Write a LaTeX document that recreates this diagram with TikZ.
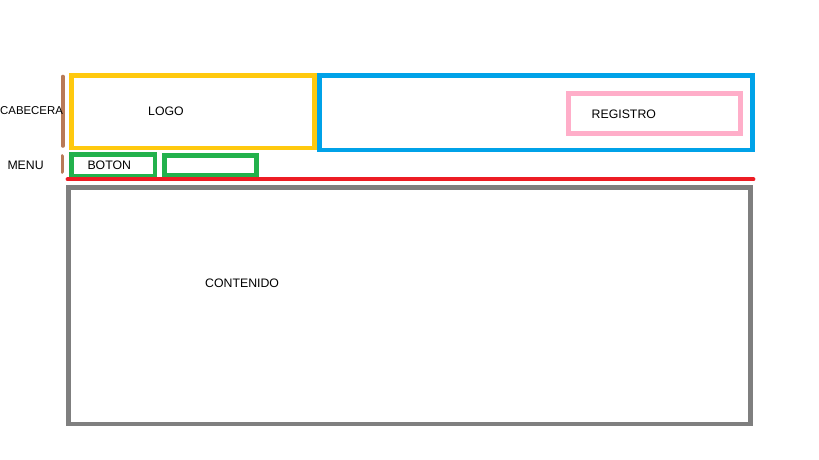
\documentclass[tikz,border=0pt]{standalone}
\usepackage{fontspec}
\setmainfont{Liberation Sans}
\definecolor{pyellow}{HTML}{FFC90E}
\definecolor{pblue}{HTML}{00A2E8}
\definecolor{ppink}{HTML}{FFAEC9}
\definecolor{pgreen}{HTML}{22B14C}
\definecolor{pred}{HTML}{ED1C24}
\definecolor{pgray}{HTML}{7F7F7F}
\definecolor{pbrown}{HTML}{B97A57}
\begin{document}
\begin{tikzpicture}[x=1pt,y=-1pt,
  box/.style={rectangle, inner sep=0pt, outer sep=0pt, line width=4.8pt},
  lbl/.style={inner sep=0pt, anchor=west, font=\fontsize{12.3}{14}\selectfont, text=black}]
\useasboundingbox (0,0) rectangle (819,460);
\node[box, draw=pyellow, minimum width=242.7pt, minimum height=72.6pt] (logo) at (192.9,111.7) {};
\node[box, draw=pblue, minimum width=433pt, minimum height=74.5pt] (reg) at (536,112.75) {};
\node[box, draw=ppink, minimum width=171.8pt, minimum height=39.7pt] (regbox) at (654.4,113.35) {};
\node[box, draw=pgreen, minimum width=83.5pt, minimum height=21.2pt] (boton) at (113.25,165.4) {};
\node[box, draw=pgreen, minimum width=91.8pt, minimum height=19.2pt] (boton2) at (210.4,165.4) {};
\node[box, draw=pgray, minimum width=682pt, minimum height=236.5pt] (cont) at (409.5,305.75) {};
\coordinate (cabA) at (62.7,76.5);
\coordinate (cabB) at (62.7,146);
\coordinate (menA) at (62.3,156);
\coordinate (menB) at (62.3,172);
\coordinate (redA) at (67.5,179.3);
\coordinate (redB) at (753.5,179.3);
\draw[pbrown, line width=3.6pt, line cap=round] (cabA) -- (cabB);
\draw[pbrown, line width=3.6pt, line cap=round] (menA) -- (menB);
\draw[pred, line width=3.8pt, line cap=round] (redA) -- (redB);
\node[lbl] (tlogo) at (148,111.5) {LOGO};
\node[lbl] (treg) at (591.5,114.5) {REGISTRO};
\node[lbl, font=\fontsize{11.4}{13}\selectfont] (tcab) at (0,111) {CABECERA};
\node[lbl] (tmenu) at (7.3,165.5) {MENU};
\node[lbl] (tboton) at (87.3,165.5) {BOTON};
\node[lbl] (tcont) at (205,283.5) {CONTENIDO};
\end{tikzpicture}
\end{document}
